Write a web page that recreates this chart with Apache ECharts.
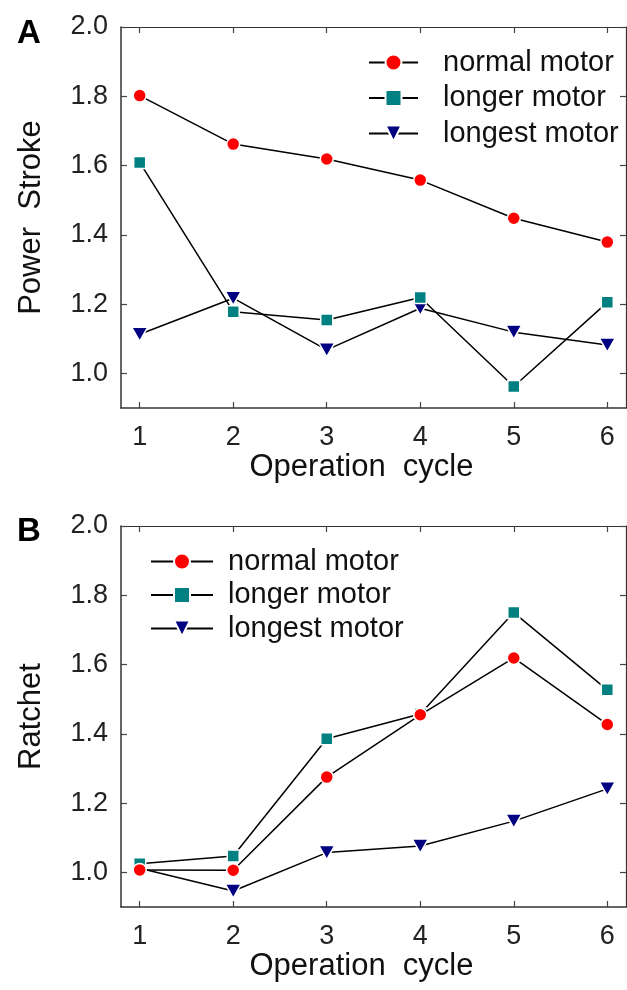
<!DOCTYPE html>
<html>
<head>
<meta charset="utf-8">
<script src="https://cdn.jsdelivr.net/npm/echarts@6/dist/echarts.min.js"></script>
<style>
  html, body { margin: 0; padding: 0; background: #fff; }
  #chart { width: 627px; height: 990px; }
</style>
</head>
<body>
<div id="chart"></div>
<script>
// Operation cycles on the x axis
const cycles = [1, 2, 3, 4, 5, 6];
const yTicks = [1.0, 1.2, 1.4, 1.6, 1.8, 2.0];
const seriesNames = ['normal motor', 'longer motor', 'longest motor'];

// Panel A: power stroke
const strokeNormal  = [1.802, 1.662, 1.619, 1.558, 1.448, 1.379];
const strokeLonger  = [1.609, 1.178, 1.154, 1.219, 0.962, 1.205];
const strokeLongest = [1.113, 1.217, 1.068, 1.188, 1.119, 1.082];

// Panel B: ratchet
const ratchetNormal  = [1.007, 1.006, 1.275, 1.455, 1.619, 1.427];
const ratchetLonger  = [1.025, 1.047, 1.386, 1.457, 1.750, 1.527];
const ratchetLongest = [1.012, 0.946, 1.057, 1.076, 1.148, 1.241];

const FONT = '"Liberation Sans", Arial, sans-serif';
const AXIS_COLOR = '#333';

const markers = [
  { symbol: 'circle', size: 13, rotate: 0, color: '#ff0000' },
  { symbol: 'rect', size: 12, rotate: 0, color: '#008080' },
  { symbol: 'triangle', size: [16, 14], rotate: 180, color: '#000080' }
];

function pairs(values) {
  return cycles.map((c, i) => [c, values[i]]);
}

function makeSeries(gridIndex, valueSets) {
  return valueSets.map((vals, k) => ({
    name: seriesNames[k],
    type: 'line',
    xAxisIndex: gridIndex * 2,
    yAxisIndex: gridIndex * 2,
    data: pairs(vals),
    symbol: markers[k].symbol,
    symbolSize: markers[k].size,
    symbolRotate: markers[k].rotate,
    lineStyle: { color: '#000', width: 1.5 },
    itemStyle: { color: markers[k].color, borderColor: '#fff', borderWidth: 1.5 },
    emphasis: { disabled: true },
    animation: false,
    z: 3 - k
  }));
}

function xAxes(gridIndex, name) {
  return [
    {
      type: 'value', gridIndex, min: 0.8, max: 6.2,
      name, nameLocation: 'middle', nameGap: 44,
      nameTextStyle: { fontFamily: FONT, fontSize: 31, color: '#111', padding: [0, 24, 0, 0] },
      axisLine: { show: true, lineStyle: { color: AXIS_COLOR, width: 1.5 } },
      axisTick: { show: true, inside: true, length: 6, customValues: cycles, lineStyle: { color: '#444', width: 1.2 } },
      axisLabel: { customValues: cycles, fontFamily: FONT, fontSize: 27, color: '#222', margin: 16 },
      splitLine: { show: false }
    },
    {
      type: 'value', gridIndex, position: 'top', min: 0.8, max: 6.2,
      axisLine: { show: true, lineStyle: { color: AXIS_COLOR, width: 1.2 } },
      axisTick: { show: true, inside: true, length: 6, customValues: cycles, lineStyle: { color: '#444', width: 1.2 } },
      axisLabel: { show: false },
      splitLine: { show: false }
    }
  ];
}

function yAxes(gridIndex, name) {
  return [
    {
      type: 'value', gridIndex, min: 0.9, max: 2.0,
      name, nameLocation: 'middle', nameGap: 74,
      nameTextStyle: { fontFamily: FONT, fontSize: 31, color: '#111' },
      axisLine: { show: true, lineStyle: { color: AXIS_COLOR, width: 1.5 } },
      axisTick: { show: true, inside: true, length: 6, customValues: yTicks, lineStyle: { color: '#444', width: 1.2 } },
      axisLabel: { customValues: yTicks, formatter: v => v.toFixed(1), fontFamily: FONT, fontSize: 27, color: '#222', margin: 13 },
      splitLine: { show: false }
    },
    {
      type: 'value', gridIndex, position: 'right', min: 0.9, max: 2.0,
      axisLine: { show: true, lineStyle: { color: AXIS_COLOR, width: 1.2 } },
      axisTick: { show: true, inside: true, length: 6, customValues: yTicks, lineStyle: { color: '#444', width: 1.2 } },
      axisLabel: { show: false },
      splitLine: { show: false }
    }
  ];
}

const chart = echarts.init(document.getElementById('chart'), null, { renderer: 'canvas' });

chart.setOption({
  animation: false,
  backgroundColor: '#fff',
  title: [
    { text: 'A', left: 12, top: 12, textStyle: { fontFamily: FONT, fontSize: 33, fontWeight: 'bold', color: '#000' } },
    { text: 'B', left: 12, top: 510, textStyle: { fontFamily: FONT, fontSize: 33, fontWeight: 'bold', color: '#000' } }
  ],
  grid: [
    { left: 121, top: 27, width: 505, height: 381 },
    { left: 121, top: 526, width: 505, height: 381 }
  ],
  legend: [
    {
      data: seriesNames.map(n => ({ name: n })),
      orient: 'vertical', left: 363, top: 43,
      itemWidth: 49, itemHeight: 20, itemGap: 6.5,
      textStyle: { fontFamily: FONT, fontSize: 29, color: '#111', padding: [0, 0, 0, 20] },
      selectedMode: false
    },
    {
      data: seriesNames.map(n => ({ name: n })),
      orient: 'vertical', left: 145, top: 542,
      itemWidth: 62, itemHeight: 20, itemGap: 4.5,
      textStyle: { fontFamily: FONT, fontSize: 29, color: '#111', padding: [0, 0, 0, 10] },
      selectedMode: false
    }
  ],
  xAxis: [...xAxes(0, 'Operation  cycle'), ...xAxes(1, 'Operation  cycle')],
  yAxis: [...yAxes(0, 'Power  Stroke'), ...yAxes(1, 'Ratchet')],
  series: [
    ...makeSeries(0, [strokeNormal, strokeLonger, strokeLongest]),
    ...makeSeries(1, [ratchetNormal, ratchetLonger, ratchetLongest])
  ]
});
</script>
</body>
</html>
